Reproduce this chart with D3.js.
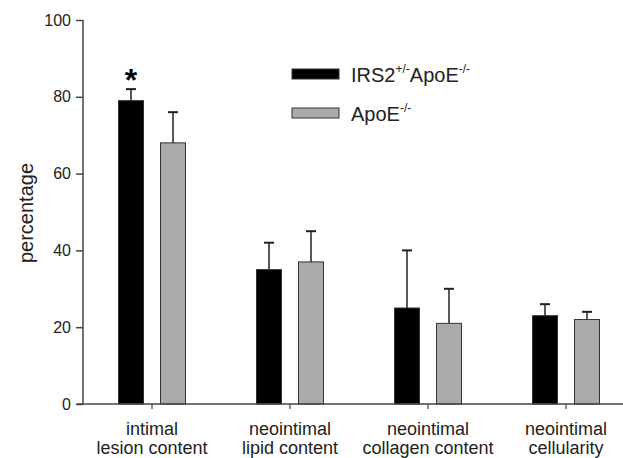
<!DOCTYPE html>
<html>
<head>
<meta charset="utf-8">
<script src="https://cdn.jsdelivr.net/npm/d3@7"></script>
<style>
  body { margin: 0; background: #fff; }
  text { font-family: "Liberation Sans", Arial, sans-serif; fill: #222; }
</style>
</head>
<body>
<div id="chart"></div>
<script>
// categories and series
var categories = [["intimal", "lesion content"], ["neointimal", "lipid content"],
                  ["neointimal", "collagen content"], ["neointimal", "cellularity"]];
var irsValues = [79, 35, 25, 23],
    irsErrors = [3, 7, 15, 3];
var apoValues = [68, 37, 21, 22],
    apoErrors = [8, 8, 9, 2];
var yTicks = [0, 20, 40, 60, 80, 100];

var width = 623, height = 458;

var svg = d3.select("#chart").append("svg")
    .attr("width", width)
    .attr("height", height);

var y = d3.scaleLinear().domain([0, 100]).range([404, 20]);
var x = d3.scaleBand().domain(d3.range(categories.length)).range([83, 635]);
var barW = 25, gap = 17;

var series = [
  {name: "irs", values: irsValues, errors: irsErrors, fill: "#000", offset: -gap / 2 - barW},
  {name: "apo", values: apoValues, errors: apoErrors, fill: "#aaa", offset: gap / 2}
];

// bars + error bars (upper only)
series.forEach(function(s) {
  var g = svg.append("g").attr("class", s.name);
  s.values.forEach(function(v, i) {
    var cx = x(i) + x.bandwidth() / 2;
    var bx = cx + s.offset;
    var top = y(v + s.errors[i]);
    g.append("line")
      .attr("x1", bx + barW / 2).attr("x2", bx + barW / 2)
      .attr("y1", y(v)).attr("y2", top)
      .style("stroke", "#222").style("stroke-width", 1.5);
    g.append("line")
      .attr("x1", bx + barW / 2 - 5).attr("x2", bx + barW / 2 + 5)
      .attr("y1", top).attr("y2", top)
      .style("stroke", "#222").style("stroke-width", 2);
    g.append("rect")
      .attr("x", bx).attr("y", y(v))
      .attr("width", barW).attr("height", y(0) - y(v))
      .style("fill", s.fill)
      .style("stroke", "#333").style("stroke-width", 1);
  });
});

// significance star
svg.append("text")
  .attr("x", x(0) + x.bandwidth() / 2 - gap / 2 - barW / 2)
  .attr("y", y(irsValues[0] + irsErrors[0]) + 2)
  .attr("text-anchor", "middle")
  .style("font-size", "32px").style("font-weight", "bold").style("fill", "#000")
  .text("*");

// y axis
var yAxis = svg.append("g").attr("transform", "translate(83,0)")
  .call(d3.axisLeft(y).tickValues(yTicks).tickSize(7).tickPadding(5));
yAxis.select(".domain").attr("d", "M0," + y(100) + "V" + y(0)).style("stroke", "#444").style("stroke-width", 1.5);
yAxis.selectAll(".tick line").style("stroke", "#444").style("stroke-width", 1.5);
yAxis.selectAll(".tick text").style("font-size", "16px").style("font-family", "Liberation Sans, Arial, sans-serif").attr("fill", "#222");

// x axis
var xAxis = svg.append("g").attr("transform", "translate(0," + y(0) + ")")
  .call(d3.axisBottom(x).tickSize(5).tickFormat(""));
xAxis.select(".domain").attr("d", "M77,0H623").style("stroke", "#444").style("stroke-width", 1.5);
xAxis.selectAll(".tick line").style("stroke", "#444").style("stroke-width", 1.2);
xAxis.selectAll(".tick").each(function(d) {
  var t = d3.select(this).append("text")
    .attr("text-anchor", "middle")
    .style("font-size", "18px").attr("fill", "#222");
  t.append("tspan").attr("x", 0).attr("y", 31).text(categories[d][0]);
  t.append("tspan").attr("x", 0).attr("y", 50).text(categories[d][1]);
});

// y label
svg.append("text")
  .attr("transform", "translate(33,213) rotate(-90)")
  .attr("text-anchor", "middle")
  .style("font-size", "20px")
  .text("percentage");

// legend
var legend = svg.append("g").attr("class", "legend");
legend.append("rect").attr("x", 292).attr("y", 69).attr("width", 47).attr("height", 10)
  .style("fill", "#000").style("stroke", "#333");
legend.append("rect").attr("x", 292).attr("y", 108).attr("width", 47).attr("height", 10)
  .style("fill", "#aaa").style("stroke", "#333");
var l1 = legend.append("text").attr("x", 351).attr("y", 82).style("font-size", "20px");
l1.append("tspan").text("IRS2");
l1.append("tspan").attr("dy", -9).style("font-size", "12px").text("+/-");
l1.append("tspan").attr("dy", 9).text("ApoE");
l1.append("tspan").attr("dy", -9).style("font-size", "12px").text("-/-");
var l2 = legend.append("text").attr("x", 351).attr("y", 121).style("font-size", "20px");
l2.append("tspan").text("ApoE");
l2.append("tspan").attr("dy", -9).style("font-size", "12px").text("-/-");
</script>
</body>
</html>
